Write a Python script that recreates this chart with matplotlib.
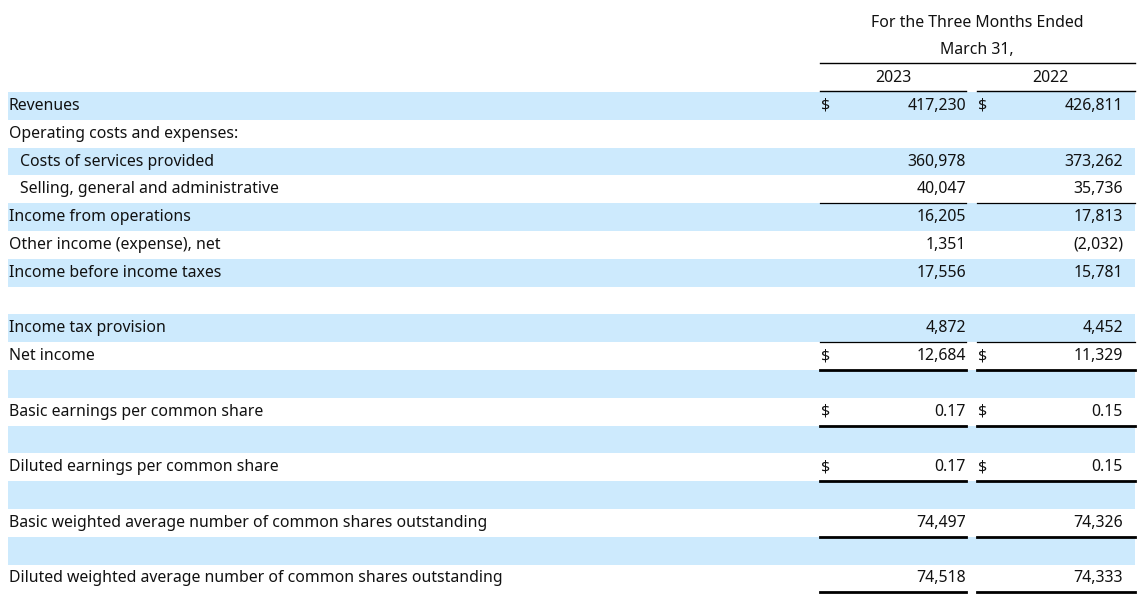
import matplotlib
matplotlib.use("Agg")
import matplotlib.pyplot as plt
from matplotlib.patches import Rectangle

labels = ["Revenues", "Operating costs and expenses:", "Costs of services provided",
          "Selling, general and administrative", "Income from operations",
          "Other income (expense), net", "Income before income taxes", "",
          "Income tax provision", "Net income", "", "Basic earnings per common share", "",
          "Diluted earnings per common share", "",
          "Basic weighted average number of common shares outstanding", "",
          "Diluted weighted average number of common shares outstanding"]
indent = [0, 0, 1, 1, 0, 0, 0, 0, 0, 0, 0, 0, 0, 0, 0, 0, 0, 0]
shaded = [1, 0, 1, 0, 1, 0, 1, 0, 1, 0, 1, 0, 1, 0, 1, 0, 1, 0]
v2023 = ["417,230", "", "360,978", "40,047", "16,205", "1,351", "17,556", "",
         "4,872", "12,684", "", "0.17", "", "0.17", "", "74,497", "", "74,518"]
v2022 = ["426,811", "", "373,262", "35,736", "17,813", "(2,032)", "15,781", "",
         "4,452", "11,329", "", "0.15", "", "0.15", "", "74,326", "", "74,333"]
dollar = [1, 0, 0, 0, 0, 0, 0, 0, 0, 1, 0, 1, 0, 1, 0, 0, 0, 0]
years = ["2023", "2022"]
header = ["For the Three Months Ended", "March 31,"]
line_above = [4, 9]
line_below = [9, 11, 13, 15, 17]

plt.rcParams["font.family"] = "Noto Sans"
fig = plt.figure(figsize=(11.47, 5.95), dpi=100)
ax = fig.add_axes([0, 0, 1, 1])
ax.set_xlim(0, 1147); ax.set_ylim(595, 0); ax.axis("off")

fs = 11.4
top = 92; rh = 27.8
c1 = (820, 966); c2 = (977, 1135)
ax.text(977, 23, header[0], ha="center", va="center", fontsize=fs, color="#111")
ax.text(977, 50, header[1], ha="center", va="center", fontsize=fs, color="#111")
ax.plot([820, 1135], [63, 63], color="black", lw=1)
ax.text(893, 78, years[0], ha="center", va="center", fontsize=fs, color="#111")
ax.text(1050, 78, years[1], ha="center", va="center", fontsize=fs, color="#111")
for c in (c1, c2):
    ax.plot([c[0], c[1]], [91, 91], color="black", lw=1)

for i, lab in enumerate(labels):
    y0 = top + i * rh
    yc = y0 + rh / 2
    if shaded[i]:
        ax.add_patch(Rectangle((8, y0), 1127, rh, color="#cdeafd", lw=0))
    ax.text(9 + 11 * indent[i], yc, lab, ha="left", va="center", fontsize=fs, color="#111")
    ax.text(966, yc, v2023[i], ha="right", va="center", fontsize=fs, color="#111")
    ax.text(1123, yc, v2022[i], ha="right", va="center", fontsize=fs, color="#111")
    if dollar[i]:
        ax.text(821, yc, "$", ha="left", va="center", fontsize=fs, color="#111")
        ax.text(978, yc, "$", ha="left", va="center", fontsize=fs, color="#111")
    for c in (c1, c2):
        if i in line_above:
            ax.plot([c[0], c[1]], [y0, y0], color="black", lw=0.9)
        if i in line_below:
            ax.plot([c[0], c[1]], [y0 + rh, y0 + rh], color="black", lw=2)

fig.savefig("out.png", dpi=100)
